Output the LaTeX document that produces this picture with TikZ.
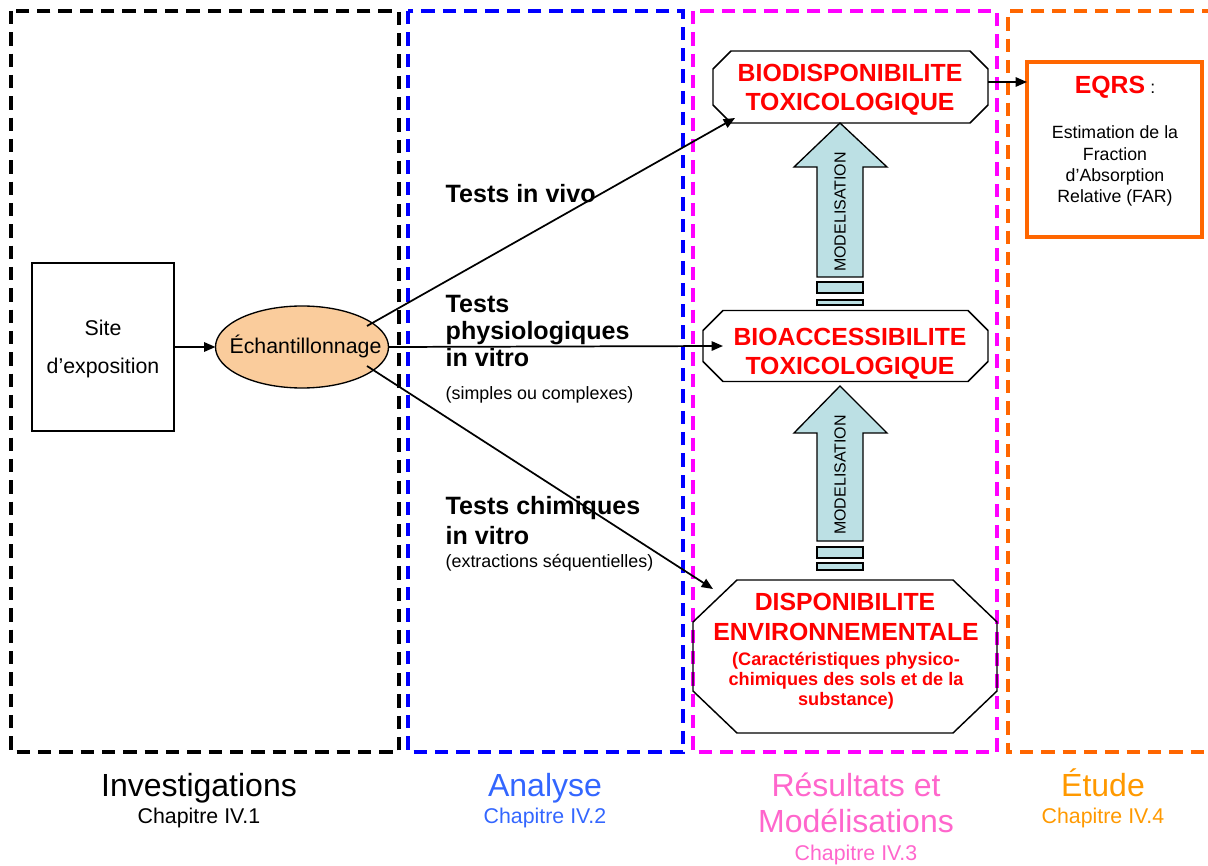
\documentclass[tikz,border=0pt]{standalone}
\usepackage{fontspec}
\setmainfont{Liberation Sans}
\usetikzlibrary{arrows.meta,calc,shapes.geometric}

\definecolor{peach}{RGB}{250,204,156}
\definecolor{modfill}{RGB}{188,224,228}
\definecolor{frameblue}{RGB}{0,0,255}
\definecolor{framemag}{RGB}{255,0,255}
\definecolor{frameorange}{RGB}{255,102,0}
\definecolor{labblue}{RGB}{51,102,255}
\definecolor{labpink}{RGB}{255,102,204}
\definecolor{laborange}{RGB}{255,153,0}

\newcommand\sz[1]{\fontsize{#1}{#1}\selectfont}

% octagonal outline around a box node: name, horizontal cut, vertical cut
\newcommand\octagonpath[3]{%
  \draw[octline] ([xshift=#2]#1.north west) -- ([xshift=-#2]#1.north east)
    -- ([yshift=-#3]#1.north east) -- ([yshift=#3]#1.south east)
    -- ([xshift=-#2]#1.south east) -- ([xshift=#2]#1.south west)
    -- ([yshift=#3]#1.south west) -- ([yshift=-#3]#1.north west) -- cycle;}

\tikzset{
  frame/.style={line width=2.3pt, dash pattern=on 10pt off 6pt},
  boxnode/.style={draw=none, inner sep=0pt, outer sep=0pt},
  octline/.style={line width=1.1pt, black},
  conn/.style={line width=1.3pt, -{Triangle[length=8.5pt,width=7pt]}},
  redtitle/.style={anchor=base, text=red, font=\bfseries\sz{18.6pt}},
  redsmall/.style={anchor=base, text=red, font=\bfseries\sz{13.6pt}},
  testtitle/.style={anchor=base west, font=\bfseries\sz{18.8pt}},
  testnote/.style={anchor=base west, font=\sz{13.4pt}},
  eqrsbody/.style={anchor=base, font=\sz{13.3pt}},
  modarrow/.style={fill=modfill, draw=black, line width=1pt},
  modtxt/.style={rotate=90, font=\sz{12pt}, inner sep=0pt},
  biglabel/.style={anchor=base, font=\sz{24pt}},
  chaplabel/.style={anchor=base, font=\sz{16pt}},
}

\begin{document}
\begin{tikzpicture}[x=0.75pt, y=-0.75pt]
\useasboundingbox (0,0) rectangle (1208,866);

% ---- chapter frames ----
\draw[frame, black] (11,11) rectangle (399,752);
\draw[frame, frameblue] (408,11) rectangle (683,752);
\draw[frame, framemag] (693,11) rectangle (997,752);
\draw[frame, frameorange] (1215,11) -- (1008,11) -- (1008,752) -- (1215,752);

% ---- investigation ----
\node[boxnode, draw=black, line width=1.1pt, minimum width=106.5pt, minimum height=126pt] (site) at (103,347) {};
\node[anchor=base, font=\sz{16pt}] (site-l1) at (103,336) {Site};
\node[anchor=base, font=\sz{16pt}] (site-l2) at (103,374) {d’exposition};

\node[ellipse, draw=black, line width=1pt, fill=peach, inner sep=0pt, outer sep=0pt,
      minimum width=129.75pt, minimum height=61.5pt] (ech) at (302,347) {};

% ---- result boxes ----
\node[boxnode, minimum width=206.25pt, minimum height=54pt] (bio) at (850.5,87) {};
\octagonpath{bio}{13.5pt}{13.5pt}
\node[redtitle] (bio-l1) at (850,82) {BIODISPONIBILITE};
\node[redtitle] (bio-l2) at (850,111) {TOXICOLOGIQUE};

\node[boxnode, minimum width=213.75pt, minimum height=53.25pt] (bioacc) at (845.5,346) {};
\octagonpath{bioacc}{15pt}{15pt}
\node[redtitle] (bioacc-l1) at (850,346) {BIOACCESSIBILITE};
\node[redtitle] (bioacc-l2) at (850,375) {TOXICOLOGIQUE};

\node[boxnode, minimum width=228pt, minimum height=114.75pt] (dispo) at (845,656.5) {};
\octagonpath{dispo}{33pt}{31.5pt}
\node[redtitle] (dispo-l1) at (845,610) {DISPONIBILITE};
\node[redtitle] (dispo-l2) at (846,640) {ENVIRONNEMENTALE};
\node[redsmall] (dispo-l3) at (846,665) {(Caractéristiques physico-};
\node[redsmall] (dispo-l4) at (846,685) {chimiques des sols et de la};
\node[redsmall] (dispo-l5) at (846,705) {substance)};

% ---- EQRS box ----
\node[boxnode, draw=frameorange, line width=3pt, minimum width=131.25pt, minimum height=131.25pt] (eqrs) at (1114.5,149.5) {};
\node[anchor=base, text=red, font=\bfseries\sz{18.6pt}] (eqrs-title) at (1110,94) {EQRS};
\node[anchor=base west, font=\sz{13.3pt}, inner sep=0pt] (eqrs-colon) at (1150,94) {:};
\node[eqrsbody] (eqrs-l1) at (1115,139) {Estimation de la};
\node[eqrsbody] (eqrs-l2) at (1115,161) {Fraction};
\node[eqrsbody] (eqrs-l3) at (1115,182) {d’Absorption};
\node[eqrsbody] (eqrs-l4) at (1115,203) {Relative (FAR)};

% ---- modelling arrows ----
\draw[modarrow] (817,277) -- (817,167) -- (794,167) -- (840,123) -- (887,167) -- (863,167) -- (863,277) -- cycle;
\draw[modarrow] (817,282) rectangle (863,293);
\draw[modarrow] (817,300) rectangle (863,305);
\node[modtxt] (mod-up) at (840,212) {MODELISATION};

\draw[modarrow] (817,541) -- (817,433) -- (794,433) -- (840,386) -- (887,433) -- (863,433) -- (863,541) -- cycle;
\draw[modarrow] (817,547) rectangle (863,558);
\draw[modarrow] (817,563) rectangle (863,570);
\node[modtxt] (mod-low) at (840,475) {MODELISATION};

% ---- connectors ----
\draw[conn] (site.east) -- (ech.west);
\draw[conn] ($(ech.center)+(65,-21)$) -- ($(bio.center)+(-115.5,31)$);
\draw[conn] (ech.east) -- ($(bioacc.center)+(-122.5,0)$);
\draw[conn] ($(ech.center)+(65,19)$) -- ($(dispo.center)+(-132,-67.5)$);
\draw[conn] ([yshift=3.75pt]bio.east) -- ([yshift=3.75pt]bio.east -| eqrs.west);

\node[anchor=base, font=\sz{16pt}] (ech-txt) at (305.5,354) {Échantillonnage};

% ---- test labels ----
\node[testtitle] (vivo) at (441,203) {Tests in vivo};
\node[testtitle] (phys-l1) at (441,313) {Tests};
\node[testtitle] (phys-l2) at (441,340) {physiologiques};
\node[testtitle] (phys-l3) at (441,367) {in vitro};
\node[testnote] (phys-note) at (441,400) {(simples ou complexes)};
\node[testtitle] (chim-l1) at (441,515) {Tests chimiques};
\node[testtitle] (chim-l2) at (441,545) {in vitro};
\node[testnote] (chim-note) at (441,567) {(extractions séquentielles)};

% ---- chapter captions ----
\node[biglabel] (cap-inv) at (199,796) {Investigations};
\node[chaplabel] (chap-inv) at (199,823) {Chapitre IV.1};
\node[biglabel, text=labblue] (cap-ana) at (545,796) {Analyse};
\node[chaplabel, text=labblue] (chap-ana) at (545,823) {Chapitre IV.2};
\node[biglabel, text=labpink] (cap-res1) at (856,796) {Résultats et};
\node[biglabel, text=labpink] (cap-res2) at (856,832) {Modélisations};
\node[chaplabel, text=labpink] (chap-res) at (856,860) {Chapitre IV.3};
\node[biglabel, text=laborange] (cap-etu) at (1103,796) {Étude};
\node[chaplabel, text=laborange] (chap-etu) at (1103,823) {Chapitre IV.4};
\end{tikzpicture}
\end{document}
